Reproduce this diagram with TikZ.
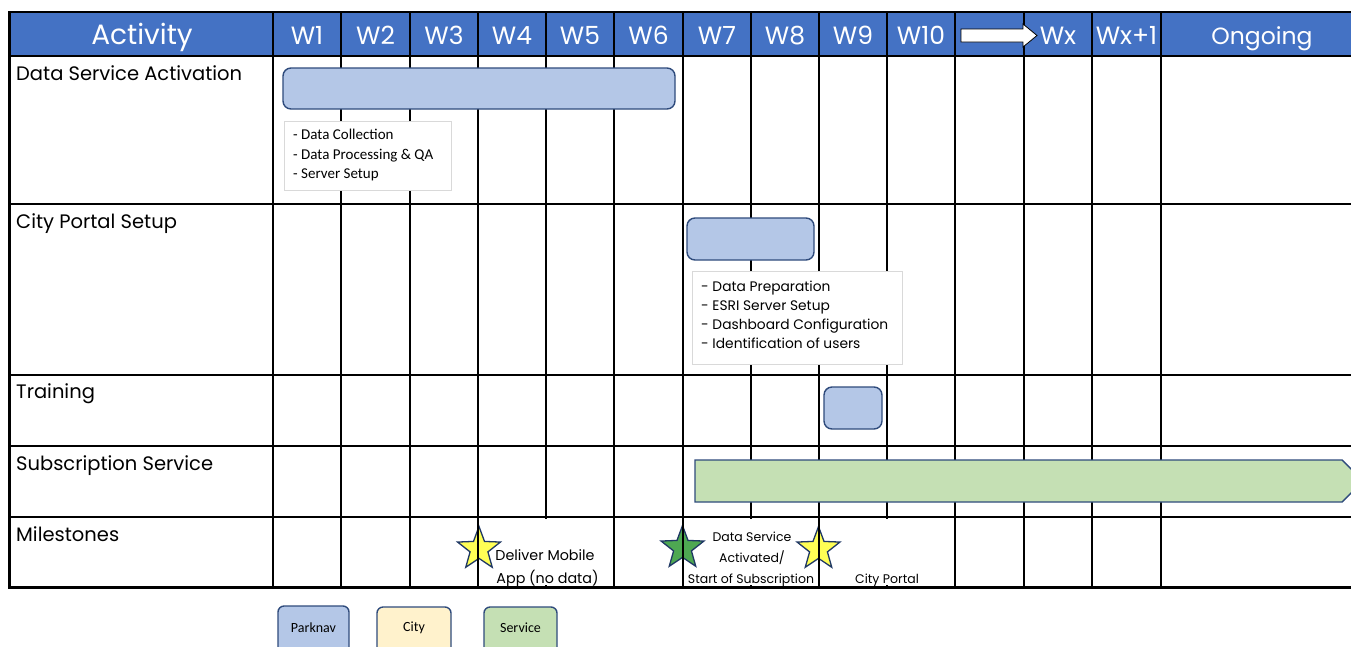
\documentclass[tikz,border=0pt]{standalone}
\usepackage{fontspec}
\setmainfont{Poppins}
\newfontfamily\calfont{Carlito}
\usetikzlibrary{shapes.geometric}
\definecolor{hdr}{HTML}{4472C4}
\definecolor{barblue}{HTML}{B4C7E7}
\definecolor{barline}{HTML}{2F4B7C}
\definecolor{bargreen}{HTML}{C5E0B4}
\definecolor{barcity}{HTML}{FFF2CC}
\definecolor{staryellow}{HTML}{FFFF55}
\definecolor{stargreen}{HTML}{4EA852}
\definecolor{starline}{HTML}{1F3864}
\definecolor{noteline}{HTML}{D9D9D9}
\tikzset{
  gridline/.style={line width=1.5pt, black},
  barbox/.style={draw=barline, line width=1.4pt, rounded corners=8pt},
  notebox/.style={draw=noteline, fill=white, line width=1pt},
  hdrtext/.style={text=white, font=\fontsize{25}{28}\selectfont, anchor=base, inner sep=0pt},
  rowlabel/.style={anchor=base west, inner sep=0pt, font=\fontsize{19.5}{22}\selectfont},
  noteA/.style={anchor=base west, inner sep=0pt, font=\calfont\fontsize{15}{18}\selectfont},
  noteB/.style={anchor=base west, inner sep=0pt, font=\fontsize{13.8}{16}\selectfont},
  mstext/.style={anchor=base, inner sep=0pt, font=\fontsize{12.5}{15}\selectfont},
  legtext/.style={anchor=center, inner sep=0pt, font=\calfont\fontsize{14}{16}\selectfont},
  starshape/.style={star, star points=5, star point ratio=2.4, minimum size=45pt, inner sep=0pt, draw=starline, line width=1.3pt},
}
\begin{document}
\begin{tikzpicture}[x=1pt,y=-1pt]
\useasboundingbox (0,0) rectangle (1351,646);
\clip (0,0) rectangle (1351,646);
\fill[white] (0,0) rectangle (1351,646);
% header band
\fill[hdr] (9,12) rectangle (1363,56);
% grid
\foreach \x in {273,341,410,478,546,614,683,751,819,887,955,1024,1092,1161}
  \draw[gridline] (\x,12) -- (\x,587);
\foreach \y in {56,204,375,446,517}
  \draw[gridline] (9,\y) -- (1363,\y);
\draw[line width=2pt] (1363,12) -- (9,12);
% milestone text boxes (white, cover the grid)
\fill[white] (494,519) rectangle (603,585);
\fill[white] (688,519) rectangle (814,585);
\fill[white] (842,519) rectangle (934,585);
% stars (grid lines pass over them)
\node[starshape, fill=staryellow] (s1) at (479,549) {};
\node[starshape, fill=stargreen] (s2) at (682.5,548) {};
\node[starshape, fill=staryellow] (s3) at (818.5,549) {};
\foreach \x in {478,683,819}
  \draw[gridline] (\x,518) -- (\x,587);
\draw[line width=3pt] (9,11) -- (9,587) -- (1363,587);
% header arrow
\draw[fill=white, draw=black, line width=0.8pt] (961,29) -- (1023,29) -- (1023,24) -- (1037,35.5) -- (1023,47) -- (1023,42) -- (961,42) -- cycle;
% header texts
\node[hdrtext, font=\fontsize{28}{32}\selectfont] (hA) at (142,44.5) {Activity};
\node[hdrtext] (h1) at (307,44) {W1};
\node[hdrtext] (h2) at (375.5,44) {W2};
\node[hdrtext] (h3) at (444,44) {W3};
\node[hdrtext] (h4) at (512,44) {W4};
\node[hdrtext] (h5) at (580,44) {W5};
\node[hdrtext] (h6) at (648.5,44) {W6};
\node[hdrtext] (h7) at (717,44) {W7};
\node[hdrtext] (h8) at (785,44) {W8};
\node[hdrtext] (h9) at (853,44) {W9};
\node[hdrtext] (h10) at (921,44) {W10};
\node[hdrtext] (hx) at (1058,44) {Wx};
\node[hdrtext] (hx1) at (1126.5,44) {Wx+1};
\node[hdrtext, font=\fontsize{23.5}{27}\selectfont] (hon) at (1262,44) {Ongoing};
% row labels
\node[rowlabel] (r1) at (16,80) {Data Service Activation};
\node[rowlabel] (r2) at (16,228) {City Portal Setup};
\node[rowlabel] (r3) at (16,398) {Training};
\node[rowlabel] (r4) at (16,470) {Subscription Service};
\node[rowlabel] (r5) at (16,541) {Milestones};
% bars
\draw[barbox, fill=barblue] (283,68) rectangle (675,109);
\draw[barbox, fill=barblue] (687,218) rectangle (814,260);
\draw[barbox, fill=barblue] (824,387) rectangle (882,429);
\draw[draw=barline, line width=1.4pt, fill=bargreen] (695,460) -- (1342,460) -- (1363,481) -- (1342,502) -- (695,502) -- cycle;
% note boxes
\draw[notebox] (284,121) rectangle (451,190);
\node[noteA] (n1a) at (293,139) {- Data Collection};
\node[noteA] (n1b) at (293,159) {- Data Processing \& QA};
\node[noteA] (n1c) at (293,178) {- Server Setup};
\draw[notebox] (692,271) rectangle (902,364);
\node[noteB] (n2a) at (701,291) {- Data Preparation};
\node[noteB] (n2b) at (701,310) {- ESRI Server Setup};
\node[noteB] (n2c) at (701,329) {- Dashboard Configuration};
\node[noteB] (n2d) at (701,348) {- Identification of users};
% milestone texts
\node[mstext, font=\fontsize{14.3}{17}\selectfont] (m1a) at (545,560) {Deliver Mobile};
\node[mstext, font=\fontsize{14.3}{17}\selectfont] (m1b) at (547.5,583) {App (no data)};
\node[mstext] (m2a) at (752,541) {Data Service};
\node[mstext] (m2b) at (752,562) {Activated/};
\node[mstext] (m2c) at (751,583) {Start of Subscription};
\node[mstext] (m3) at (887,583) {City Portal};
% legend
\draw[barbox, rounded corners=6pt, fill=barblue] (278,606) rectangle (349,654);
\draw[barbox, rounded corners=6pt, fill=barcity] (377,607) rectangle (451,654);
\draw[barbox, rounded corners=6pt, fill=bargreen] (484,607) rectangle (557,654);
\node[legtext] (l1) at (313.5,628) {Parknav};
\node[legtext] (l2) at (414,628) {City};
\node[legtext] (l3) at (520.5,628) {Service};
\end{tikzpicture}
\end{document}
